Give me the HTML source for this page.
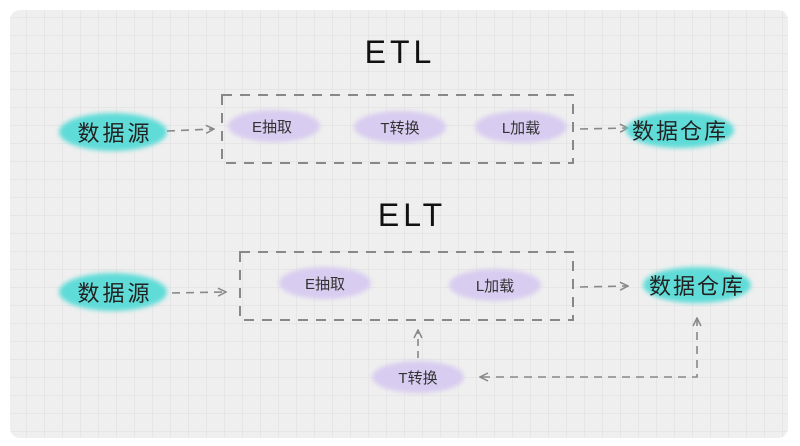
<!DOCTYPE html>
<html><head><meta charset="utf-8">
<style>
html,body{margin:0;padding:0;background:#fff;width:800px;height:446px;overflow:hidden}
svg text{font-family:"Liberation Sans","Noto Sans CJK SC",sans-serif}
</style></head>
<body>
<svg width="800" height="446" viewBox="0 0 800 446" xmlns="http://www.w3.org/2000/svg">
<defs>
<pattern id="grid" x="8" y="17" width="18" height="18" patternUnits="userSpaceOnUse">
<path d="M0 0H18M0 0V18" stroke="#e0e0e0" stroke-width="1.2" fill="none"/>
</pattern>
<filter id="soft"><feGaussianBlur stdDeviation="2.5"/></filter>
<marker id="ah" viewBox="0 0 10 10" refX="9" refY="5" markerWidth="10" markerHeight="10" orient="auto-start-reverse" markerUnits="userSpaceOnUse">
<path d="M1 1L9 5L1 9" fill="none" stroke="#888" stroke-width="1.5"/>
</marker>
</defs>
<rect x="10" y="10" width="778" height="428" rx="10" fill="#efefef"/>
<rect x="10" y="10" width="778" height="428" rx="10" fill="url(#grid)"/>

<g>
<text x="400" y="63" font-size="32" text-anchor="middle" fill="#111" letter-spacing="4">ETL</text>
<rect x="222" y="95" width="351" height="68" fill="none" stroke="#888" stroke-width="2" stroke-dasharray="10 8"/>
<ellipse cx="113" cy="132" rx="54" ry="19" fill="#5fdcd8" filter="url(#soft)"/>
<text x="115" y="141" font-size="22" text-anchor="middle" fill="#222" letter-spacing="3">数据源</text>
<line x1="167" y1="131" x2="214" y2="129" stroke="#888" stroke-width="1.6" stroke-dasharray="8 6" marker-end="url(#ah)"/>
<ellipse cx="274" cy="126" rx="46" ry="16" fill="#d8ccf0" filter="url(#soft)"/>
<text x="272" y="132" font-size="15" text-anchor="middle" fill="#333">E抽取</text>
<ellipse cx="400" cy="127" rx="46" ry="16" fill="#d8ccf0" filter="url(#soft)"/>
<text x="400" y="133" font-size="15" text-anchor="middle" fill="#333">T转换</text>
<ellipse cx="521" cy="127" rx="46" ry="16" fill="#d8ccf0" filter="url(#soft)"/>
<text x="521" y="133" font-size="15" text-anchor="middle" fill="#333">L加载</text>
<line x1="580" y1="129" x2="628" y2="128" stroke="#888" stroke-width="1.6" stroke-dasharray="8 6" marker-end="url(#ah)"/>
<ellipse cx="680" cy="130" rx="54" ry="18" fill="#5fdcd8" filter="url(#soft)"/>
<text x="680" y="139" font-size="22" text-anchor="middle" fill="#222" letter-spacing="2">数据仓库</text>
</g>

<g>
<text x="412" y="226" font-size="32" text-anchor="middle" fill="#111" letter-spacing="4">ELT</text>
<rect x="240" y="252" width="333" height="68" fill="none" stroke="#888" stroke-width="2" stroke-dasharray="10 8"/>
<ellipse cx="113" cy="292" rx="54" ry="19" fill="#5fdcd8" filter="url(#soft)"/>
<text x="115" y="301" font-size="22" text-anchor="middle" fill="#222" letter-spacing="3">数据源</text>
<line x1="172" y1="293" x2="226" y2="292" stroke="#888" stroke-width="1.6" stroke-dasharray="8 6" marker-end="url(#ah)"/>
<ellipse cx="325" cy="283" rx="46" ry="16" fill="#d8ccf0" filter="url(#soft)"/>
<text x="325" y="289" font-size="15" text-anchor="middle" fill="#333">E抽取</text>
<ellipse cx="495" cy="285" rx="46" ry="16" fill="#d8ccf0" filter="url(#soft)"/>
<text x="495" y="291" font-size="15" text-anchor="middle" fill="#333">L加载</text>
<line x1="580" y1="287" x2="628" y2="286" stroke="#888" stroke-width="1.6" stroke-dasharray="8 6" marker-end="url(#ah)"/>
<ellipse cx="697" cy="285" rx="54" ry="18" fill="#5fdcd8" filter="url(#soft)"/>
<text x="697" y="294" font-size="22" text-anchor="middle" fill="#222" letter-spacing="2">数据仓库</text>
<ellipse cx="418" cy="377" rx="46" ry="16" fill="#d8ccf0" filter="url(#soft)"/>
<text x="418" y="383" font-size="15" text-anchor="middle" fill="#333">T转换</text>
<line x1="418" y1="358" x2="418" y2="330" stroke="#888" stroke-width="1.6" stroke-dasharray="7 5" marker-end="url(#ah)"/>
<polyline points="697,318 697,377 480,377" fill="none" stroke="#888" stroke-width="1.6" stroke-dasharray="8 6" marker-end="url(#ah)" marker-start="url(#ah)"/>
</g>
</svg>
</body></html>
